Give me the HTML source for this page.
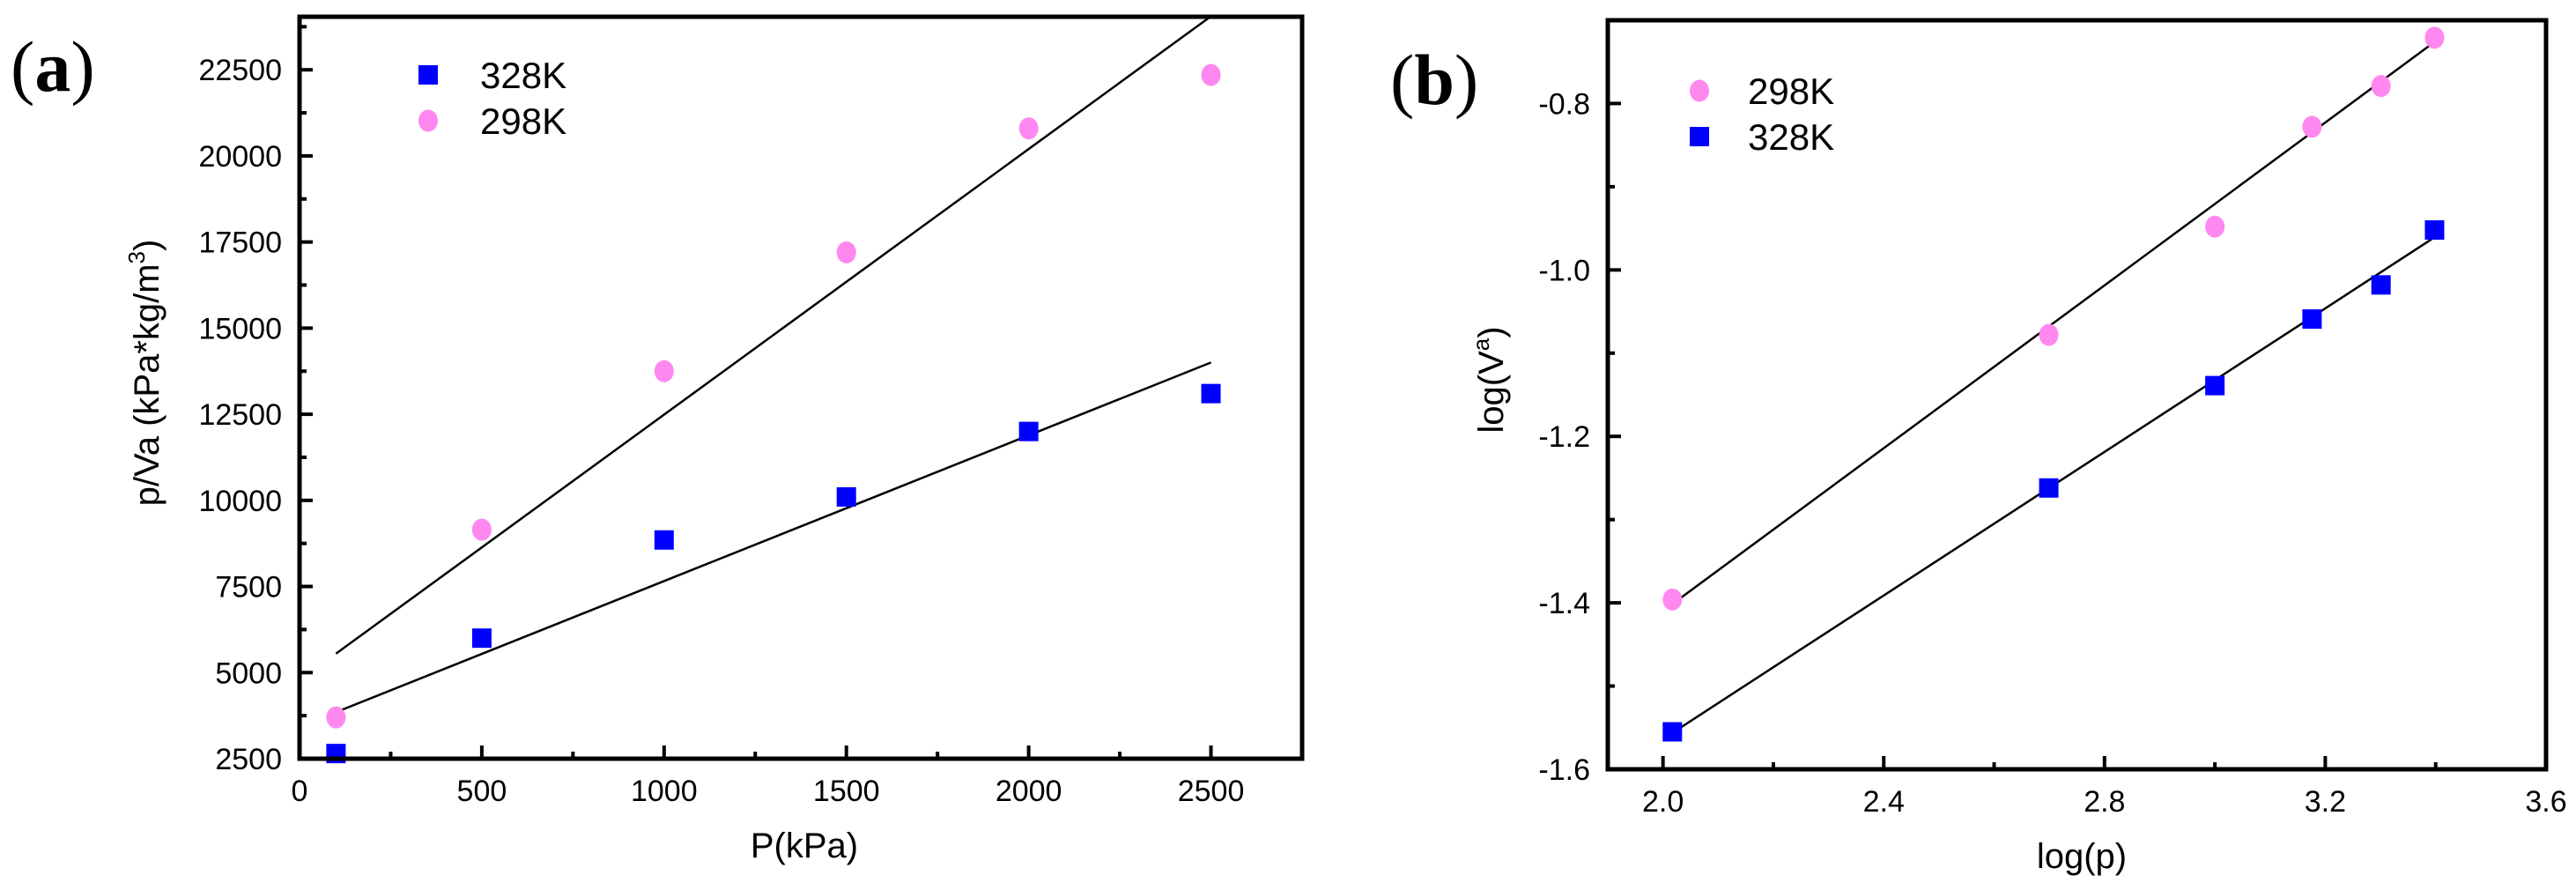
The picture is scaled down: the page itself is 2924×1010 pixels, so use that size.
<!DOCTYPE html>
<html><head><meta charset="utf-8"><style>
html,body{margin:0;padding:0;background:#fff;}
svg{display:block;font-family:"Liberation Sans",Arial,sans-serif;}
</style></head><body>
<svg id="fig" width="2924" height="1010" viewBox="0 0 2924 1010" xmlns="http://www.w3.org/2000/svg"></svg>
<script>
// ---- Panel (a) data ----
const aX = [100, 500, 1000, 1500, 2000, 2500];
const a328 = [2650, 6000, 8850, 10100, 12000, 13100];
const a298 = [3700, 9150, 13750, 17200, 20800, 22350];
const aFit328 = [4.23, 3427];   // slope, intercept
const aFit298 = [7.71, 4779];
const aFitRange = [100, 2500];
const aXTicks = [0, 500, 1000, 1500, 2000, 2500];
const aYTicks = [2500, 5000, 7500, 10000, 12500, 15000, 17500, 20000, 22500];
// ---- Panel (b) data ----
const bX = [2.017, 2.699, 3.0, 3.176, 3.301, 3.398];
const b298 = [-1.396, -1.078, -0.948, -0.828, -0.779, -0.721];
const b328 = [-1.555, -1.262, -1.139, -1.059, -1.018, -0.952];
const bFit298 = [0.4891, -2.388];
const bFit328 = [0.4312, -2.426];
const bFitRange = [2.02, 3.40];
const bXTicks = [2.0, 2.4, 2.8, 3.2, 3.6];
const bYTicks = [-1.6, -1.4, -1.2, -1.0, -0.8];

const NS = "http://www.w3.org/2000/svg";
const svg = document.getElementById('fig');
function mk(tag, attrs, parent, text){
  const e = document.createElementNS(NS, tag);
  for (const k in attrs) e.setAttribute(k, attrs[k]);
  if (text !== undefined) e.textContent = text;
  (parent || svg).appendChild(e);
  return e;
}

function panel(o){
  const g = mk('g', {});
  
  
  const sx = v => o.L + (v - o.xmin) / (o.xmax - o.xmin) * (o.R - o.L);
  const sy = v => o.B - (v - o.ymin) / (o.ymax - o.ymin) * (o.B - o.T);
  // ticks
  o.xTicks.forEach(t => {
    const x = sx(t);
    const tk = mk('line', {x1:x, x2:x, y1:o.B, y2:o.B-15, stroke:'#000','stroke-width':4}, g);
    
    
    const lb = mk('text', {x:x, y:o.B+48, 'font-size':34, 'text-anchor':'middle'}, g, o.xFmt(t));
    
    
  });
  for (let i = 0; i < o.xTicks.length - 1; i++) {
    const x = sx((o.xTicks[i] + o.xTicks[i+1]) / 2);
    const mt = mk('line', {x1:x, x2:x, y1:o.B, y2:o.B-8, stroke:'#000','stroke-width':4}, g);
    
    
  }
  o.yTicks.forEach(t => {
    const y = sy(t);
    const tk = mk('line', {x1:o.L, x2:o.L+15, y1:y, y2:y, stroke:'#000','stroke-width':4}, g);
    
    
    const lb = mk('text', {x:o.L-20, y:y+12, 'font-size':34, 'text-anchor':'end'}, g, o.yFmt(t));
    
    
  });
  const yt = o.yTicks.slice();
  yt.push(yt[yt.length-1] + (yt[1]-yt[0]));
  for (let i = 0; i < yt.length - 1; i++) {
    const v = (yt[i] + yt[i+1]) / 2;
    if (v > o.ymax) continue;
    const y = sy(v);
    const mt = mk('line', {x1:o.L, x2:o.L+8, y1:y, y2:y, stroke:'#000','stroke-width':4}, g);
    
    
  }
  // fit lines
  o.fits.forEach((f, i) => {
    const x1 = o.fitRange[0], x2 = o.fitRange[1];
    const ln = mk('line', {x1:sx(x1), y1:sy(f[0]*x1+f[1]), x2:sx(x2), y2:sy(f[0]*x2+f[1]), stroke:'#000','stroke-width':2.5}, g);
    
    
  });
  // markers
  o.xs.forEach((xv, i) => {
    const sq = mk('rect', {x:sx(xv)-11, y:sy(o.sq[i])-11, width:22, height:22, fill:'#0000ff'}, g);
    
    
    const c = mk('ellipse', {cx:sx(xv), cy:sy(o.ci[i]), rx:11, ry:12.5, fill:'#ff88f0'}, g);
    
    
  });
  // frame
  const fr = mk('rect', {x:o.L, y:o.T, width:o.R-o.L, height:o.B-o.T, fill:'none', stroke:'#000','stroke-width':5}, g);
  
  
  return g;
}

panel({name:'panel-a', L:340, R:1478, T:19, B:861, xmin:0, xmax:2750, ymin:2500, ymax:24040,
  xTicks:aXTicks, yTicks:aYTicks, xFmt:t=>String(t), yFmt:t=>String(t),
  xs:aX, sq:a328, ci:a298, fits:[aFit328, aFit298], fitNames:['328k','298k'], fitRange:aFitRange});
panel({name:'panel-b', L:1825, R:2890, T:23, B:873, xmin:1.9, xmax:3.6, ymin:-1.6, ymax:-0.7,
  xTicks:bXTicks, yTicks:bYTicks, xFmt:t=>t.toFixed(1), yFmt:t=>t.toFixed(1),
  xs:bX, sq:b328, ci:b298, fits:[bFit298, bFit328], fitNames:['298k','328k'], fitRange:bFitRange});
</script>
<script>
// static labels
const S = document.getElementById('fig');
S.insertAdjacentHTML('beforeend', `
<text x="12" y="103" font-family="Liberation Serif, serif" font-size="82">(<tspan font-weight="bold">a</tspan>)</text>
<text x="1578" y="118" font-family="Liberation Serif, serif" font-size="82">(<tspan font-weight="bold">b</tspan>)</text>
<g>
 <rect x="475" y="74" width="22" height="22" fill="#0000ff"/>
 <text x="545" y="100" font-size="42">328K</text>
 <ellipse cx="486" cy="137" rx="11" ry="12.5" fill="#ff88f0"/>
 <text x="545" y="152" font-size="42">298K</text>
</g>
<g>
 <ellipse cx="1929" cy="103" rx="11" ry="12.5" fill="#ff88f0"/>
 <text x="1984" y="118" font-size="42">298K</text>
 <rect x="1918" y="144" width="22" height="22" fill="#0000ff"/>
 <text x="1984" y="170" font-size="42">328K</text>
</g>
<text x="913" y="973" font-size="40" text-anchor="middle">P(kPa)</text>
<text transform="translate(180,423) rotate(-90)" font-size="40" text-anchor="middle">p/Va (kPa*kg/m<tspan font-size="26" dy="-16">3</tspan><tspan dy="16">)</tspan></text>
<text x="2363" y="985" font-size="40" text-anchor="middle">log(p)</text>
<text transform="translate(1706,431) rotate(-90)" font-size="40" text-anchor="middle">log(V<tspan font-size="26" dy="-16">a</tspan><tspan dy="16">)</tspan></text>
`);
</script>
</body></html>
